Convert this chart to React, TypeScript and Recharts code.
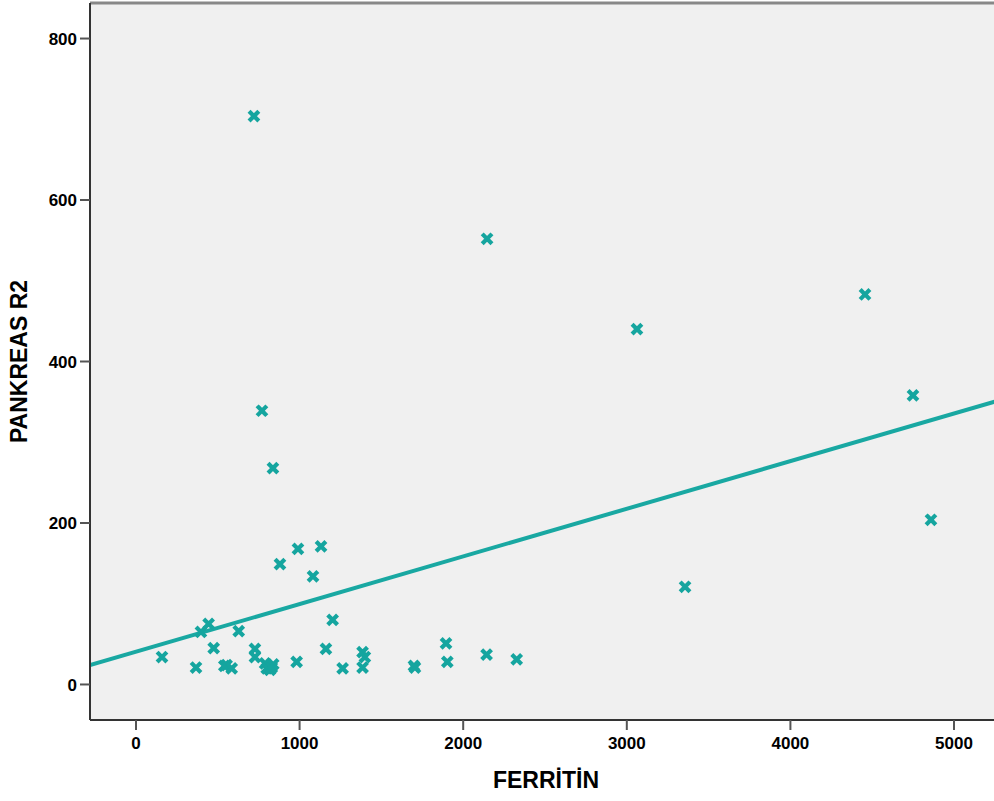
import React from "react";
import {
  ComposedChart,
  Scatter,
  XAxis,
  YAxis,
  CartesianGrid,
  ReferenceLine,
} from "recharts";

// ferritin (x) vs pancreas R2 (y), one entry per patient
const ferritin = [
  159, 367, 397, 444, 475, 540, 554, 585, 628, 721, 727, 727, 770, 789, 799,
  819, 830, 839, 837, 880, 982, 990, 1082, 1131, 1161, 1202, 1263, 1385, 1399,
  1385, 1699, 1705, 1895, 1903, 2143, 2146, 2327, 3062, 3356, 4456, 4749, 4859,
];
const pankreasR2 = [
  34, 21, 65, 75, 45, 23, 24, 20, 66, 704, 44, 34, 339, 26, 20, 18, 21, 25,
  268, 149, 28, 168, 134, 171, 44, 80, 20, 40, 34, 21, 23, 21, 51, 28, 37, 552,
  31, 440, 121, 483, 358, 204,
];

// linear fit line
const fitIntercept = 40.6;
const fitSlope = 0.059;

const xDomain = [-281, 5281];
const yDomain = [-44, 844];
const xTicks = [0, 1000, 2000, 3000, 4000, 5000];
const yTicks = [0, 200, 400, 600, 800];

const TEAL = "#15a59f";
const FONT = "'Liberation Sans', Arial, sans-serif";

const points = ferritin.map((x, i) => ({ x, y: pankreasR2[i] }));
const fitSegment = xDomain.map((x) => ({ x, y: fitIntercept + fitSlope * x }));

const CrossMarker = (props: any) => {
  const { cx, cy } = props;
  const r = 3.4;
  return (
    <path
      d={`M${cx - r},${cy - r}L${cx + r},${cy + r}M${cx + r},${cy - r}L${cx - r},${cy + r}`}
      stroke={TEAL}
      strokeWidth={4.2}
      strokeLinecap="square"
      fill="none"
    />
  );
};

const tickStyle = {
  fontSize: 17,
  fontWeight: "bold" as const,
  fill: "#000",
  fontFamily: FONT,
};

const titleStyle = {
  fontSize: 23,
  fill: "#000",
  fontFamily: FONT,
  fontWeight: "bold" as const,
};

export default function App() {
  return (
    <div
      style={{
        position: "fixed",
        left: 0,
        top: 0,
        width: 994,
        height: 801,
        overflow: "hidden",
        background: "#fff",
      }}
    >
      <ComposedChart
        width={1010}
        height={801}
        margin={{ top: 3, right: 10, left: 0, bottom: 0 }}
      >
        <CartesianGrid
          fill="#f0f0f0"
          horizontal={false}
          vertical={false}
        />
        <XAxis
          type="number"
          dataKey="x"
          domain={xDomain}
          ticks={xTicks}
          allowDataOverflow
          height={81}
          tickSize={10}
          tickMargin={7}
          tick={tickStyle}
          axisLine={{ stroke: "#333", strokeWidth: 2 }}
          tickLine={{ stroke: "#555", strokeWidth: 2 }}
          label={{
            value: "FERRİTİN",
            position: "insideBottom",
            offset: 13,
            dx: 1,
            style: titleStyle,
          }}
        />
        <YAxis
          type="number"
          dataKey="y"
          domain={yDomain}
          ticks={yTicks}
          allowDataOverflow
          width={90}
          tickSize={10}
          tickMargin={3}
          tick={tickStyle}
          axisLine={{ stroke: "#333", strokeWidth: 2 }}
          tickLine={{ stroke: "#555", strokeWidth: 2 }}
          label={{
            value: "PANKREAS R2",
            angle: -90,
            position: "insideLeft",
            offset: 19,
            style: { ...titleStyle, textAnchor: "middle" },
          }}
        />
        <ReferenceLine y={yDomain[1]} stroke="#888" strokeWidth={3} />
        <ReferenceLine
          segment={fitSegment}
          stroke="#19a8a2"
          strokeWidth={4}
          ifOverflow="hidden"
        />
        <Scatter
          data={points}
          shape={<CrossMarker />}
          isAnimationActive={false}
        />
      </ComposedChart>
    </div>
  );
}
